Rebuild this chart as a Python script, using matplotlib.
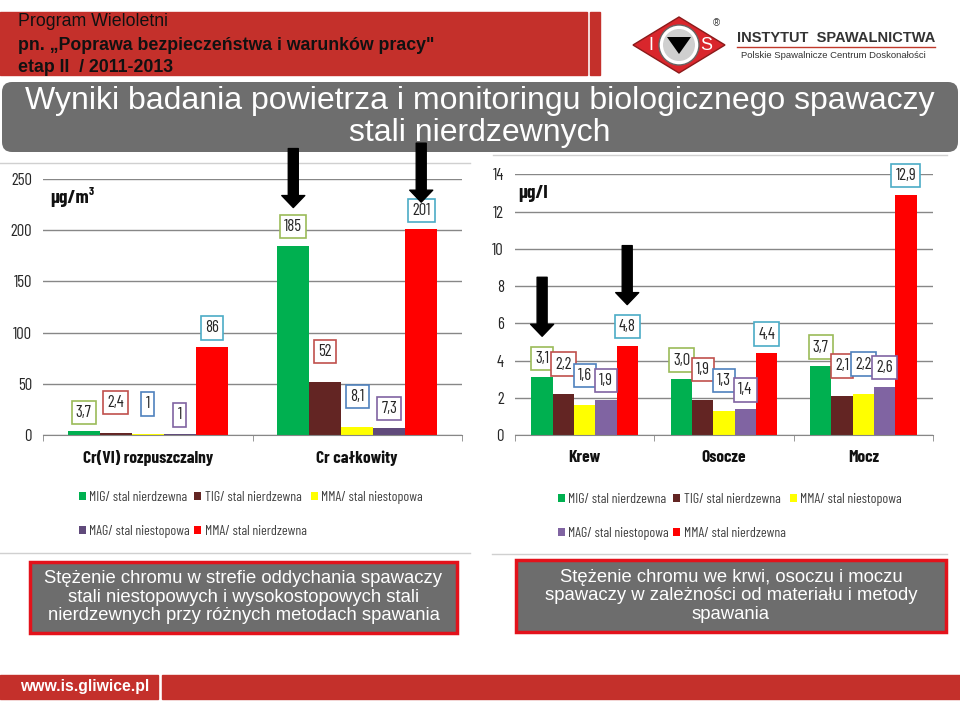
import numpy as np
import matplotlib
matplotlib.use('Agg')
import matplotlib.pyplot as plt
from matplotlib.patches import Rectangle, Polygon, Circle, FancyBboxPatch, Patch

plt.rcParams['font.family'] = ['Liberation Sans', 'DejaVu Sans']
NARROW = ['Barlow Condensed', 'DejaVu Sans']

# dane
series_names = ['MIG/ stal nierdzewna', 'TIG/ stal nierdzewna', 'MMA/ stal niestopowa',
                'MAG/ stal niestopowa', 'MMA/ stal nierdzewna']

left_categories = ['Cr(VI) rozpuszczalny', 'Cr całkowity']
left_mig = [3.7, 185]
left_tig = [2.4, 52]
left_mma_niestop = [1, 8.1]
left_mag = [1, 7.3]
left_mma_nierdz = [86, 201]
left_yticks = [0, 50, 100, 150, 200, 250]

right_categories = ['Krew', 'Osocze', 'Mocz']
right_mig = [3.1, 3.0, 3.7]
right_tig = [2.2, 1.9, 2.1]
right_mma_niestop = [1.6, 1.3, 2.2]
right_mag = [1.9, 1.4, 2.6]
right_mma_nierdz = [4.8, 4.4, 12.9]
right_yticks = [0, 2, 4, 6, 8, 10, 12, 14]

# wygląd
RED = '#c4302b'
GRAY_BOX = '#6d6d6d'
left_colors = ['#00b050', '#632523', '#ffff00', '#604a7b', '#ff0000']
right_colors = ['#00b050', '#632523', '#ffff00', '#8064a2', '#ff0000']
label_edges = ['#9bbb59', '#c0504d', '#4f81bd', '#8064a2', '#4bacc6']
label_offsets = [19, 30, 30, 19, 19]  # px nad słupkiem
W = 1 / 6.55

fig = plt.figure(figsize=(9.6, 7.1), dpi=100)


def px_axes(x0, y0, x1, y1, **kw):
    return fig.add_axes([x0 / 960, 1 - y1 / 710, (x1 - x0) / 960, (y1 - y0) / 710], **kw)


# tło i dekoracje slajdu
bg = fig.add_axes([0, 0, 1, 1], zorder=0)
bg.set_xlim(0, 960)
bg.set_ylim(710, 0)
bg.axis('off')

bg.add_patch(Rectangle((0, 12), 587, 63, color=RED))
bg.add_patch(Rectangle((590, 12), 10, 63, color=RED))
bg.text(18, 22, 'Program Wieloletni', fontsize=12.75, va='center', color='#111111')
bg.text(18, 45, 'pn. „Poprawa bezpieczeństwa i warunków pracy"', fontsize=12.75,
        fontweight='bold', va='center', color='#111111')
bg.text(18, 67, 'etap II  / 2011-2013', fontsize=12.75, fontweight='bold', va='center',
        color='#111111')

# logo
bg.add_patch(Polygon([(633, 45), (679, 17), (725, 45), (679, 73)], closed=True,
                     fc='#d9262c', ec='#8b1a1a', lw=1))
bg.add_patch(Circle((679, 45), 20, fc='white', ec='#666666', lw=1))
bg.add_patch(Circle((679, 45), 16, fc='#cfcfcf', ec='none'))
bg.add_patch(Polygon([(667, 37), (691, 37), (679, 54)], closed=True, fc='black'))
bg.text(651, 46, 'I', color='white', fontsize=13, ha='center', va='center')
bg.text(706, 46, 'S', color='white', fontsize=13, ha='center', va='center')
bg.text(716, 23, '®', color='#333333', fontsize=7, ha='center', va='center')
bg.text(737, 38, 'INSTYTUT  SPAWALNICTWA', fontsize=10.5, fontweight='bold',
        color='#333333', va='center')
bg.plot([737, 935], [46.5, 46.5], color='#c0392b', lw=1)
bg.text(741, 55, 'Polskie Spawalnicze Centrum Doskonałości', fontsize=6.8,
        color='#333333', va='center')

# tytuł
bg.add_patch(FancyBboxPatch((2, 82), 956, 70, boxstyle='round,pad=0,rounding_size=10',
                            fc='#6e6e6e', ec='none'))
bg.text(480, 101, 'Wyniki badania powietrza i monitoringu biologicznego spawaczy',
        fontsize=23, color='white', ha='center', va='center')
bg.text(480, 133, 'stali nierdzewnych', fontsize=23, color='white', ha='center',
        va='center')

# cienkie linie
for xs, y in [((0, 470), 163), ((493, 947), 155), ((0, 470), 553), ((492, 947), 554)]:
    bg.plot(xs, [y, y], color='#d0d0d0', lw=1)

# podpisy
bg.add_patch(Rectangle((30, 562), 427, 71, fc=GRAY_BOX, ec='#e3121b', lw=2.5))
bg.text(243.5, 597, 'Stężenie chromu w strefie oddychania spawaczy\n'
        'stali niestopowych i wysokostopowych stali\n'
        'nierdzewnych przy różnych metodach spawania',
        fontsize=13.3, color='white', ha='center', va='center', linespacing=1.1)
bg.add_patch(Rectangle((516, 560), 430, 72, fc=GRAY_BOX, ec='#e3121b', lw=2.5))
bg.text(731, 596, 'Stężenie chromu we krwi, osoczu i moczu\n'
        'spawaczy w zależności od materiału i metody\n'
        'spawania',
        fontsize=13.3, color='white', ha='center', va='center', linespacing=1.1)

# stopka
bg.add_patch(Rectangle((0, 675), 158, 24, color=RED))
bg.add_patch(Rectangle((162, 675), 798, 24, color=RED))
bg.text(20, 687, 'www.is.gliwice.pl', fontsize=11.3, fontweight='bold', color='white',
        va='center')


def draw_chart(ax, cats, series, colors, yticks, fmt, unit, unit_xy):
    ax.set_facecolor('none')
    x = np.arange(len(cats))
    for i, vals in enumerate(series):
        pos = x + (i - 2) * W
        ax.bar(pos, vals, W, color=colors[i], zorder=2)
        for p, v in zip(pos, vals):
            ax.annotate(fmt(v), (p, v), xytext=(0, label_offsets[i]),
                        textcoords='offset pixels', ha='center', va='center',
                        fontsize=12, family=NARROW, color='#262626', zorder=4,
                        bbox=dict(boxstyle='square,pad=0.25', fc='white',
                                  ec=label_edges[i], lw=1.2))
    ax.set_xlim(-0.5, len(cats) - 0.5)
    ax.set_ylim(yticks[0], yticks[-1])
    ax.set_yticks(yticks)
    ax.set_xticks(x)
    ax.set_xticklabels(cats, fontsize=12.5, fontweight='bold', family=NARROW,
                       color='#111111')
    ax.set_xticks(np.arange(len(cats) + 1) - 0.5, minor=True)
    ax.tick_params(axis='x', which='major', length=0, pad=11)
    ax.tick_params(axis='x', which='minor', length=4, color='#878787', direction='out')
    ax.tick_params(axis='y', length=0, pad=8, labelsize=12, labelcolor='#262626')
    for lab in ax.get_yticklabels():
        lab.set_family(NARROW)
    ax.yaxis.grid(True, color='#878787', lw=1)
    ax.set_axisbelow(True)
    for s in ['left', 'right', 'top']:
        ax.spines[s].set_visible(False)
    ax.spines['bottom'].set_color('#878787')
    ax.text(unit_xy[0], unit_xy[1], unit, transform=ax.transAxes, fontsize=14,
            fontweight='bold', family=NARROW, va='center', color='#111111')


def pl_general(v):
    return ('%g' % v).replace('.', ',')


def pl_one(v):
    return ('%.1f' % v).replace('.', ',')


left_series = [left_mig, left_tig, left_mma_niestop, left_mag, left_mma_nierdz]
right_series = [right_mig, right_tig, right_mma_niestop, right_mag, right_mma_nierdz]

axl = px_axes(43, 179, 462, 435, zorder=1)
draw_chart(axl, left_categories, left_series, left_colors, left_yticks, pl_general,
           'µg/m³', (0.017, 0.93))
axr = px_axes(515, 174.3, 933, 435, zorder=1)
draw_chart(axr, right_categories, right_series, right_colors, right_yticks, pl_one,
           'µg/l', (0.007, 0.928))


# strzałki
def arrow(ax, cat, idx, vals, gap):
    xp = cat + (idx - 2) * W
    ax.annotate('', (xp, vals[cat]), xytext=(0, 59 + gap), textcoords='offset pixels',
                annotation_clip=False, zorder=6,
                arrowprops=dict(arrowstyle='simple,head_length=1.2,head_width=2.3,tail_width=1.0',
                                mutation_scale=7.2, fc='black', ec='black',
                                shrinkA=0, shrinkB=gap * 0.72))


arrow(axl, 1, 0, left_mig, 38)
arrow(axl, 1, 4, left_mma_nierdz, 27)
arrow(axr, 0, 0, right_mig, 41)
arrow(axr, 0, 4, right_mma_nierdz, 41)

# legendy
order = [0, 3, 1, 4, 2]
for colors, anchor in [(left_colors, (79, 491)), (right_colors, (558, 493))]:
    handles = [Patch(facecolor=colors[i], edgecolor='none') for i in order]
    labels = [series_names[i] for i in order]
    fig.legend(handles, labels, ncol=3, loc='upper left',
               bbox_to_anchor=(anchor[0] / 960, 1 - anchor[1] / 710), frameon=False,
               prop=dict(family=NARROW, size=10), labelcolor='#404040',
               handlelength=0.5, handleheight=0.5, handletextpad=0.25,
               columnspacing=0.3, labelspacing=1.5, borderpad=0, borderaxespad=0)

fig.savefig('out.png', dpi=100)
